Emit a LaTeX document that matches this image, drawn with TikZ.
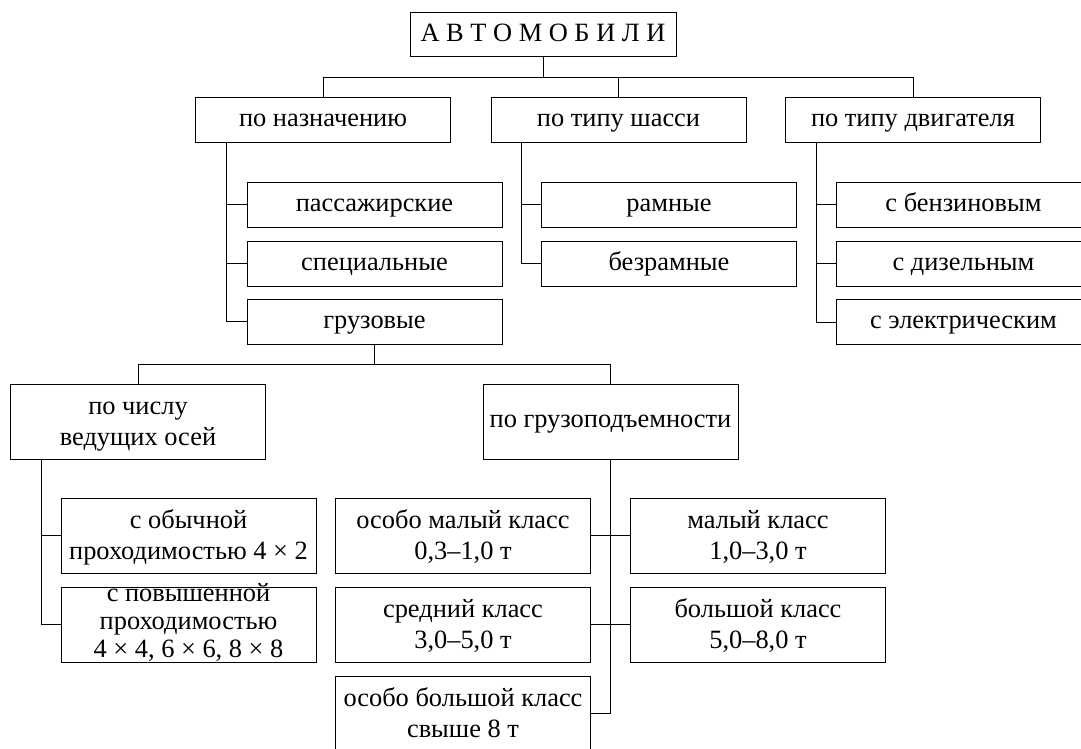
\documentclass[tikz,border=0pt]{standalone}
\usepackage{fontspec}
\setmainfont{Liberation Serif}
\usetikzlibrary{positioning}
\newcommand{\tallstrut}{\rule[-4.6pt]{0pt}{17.9pt}}

\begin{document}
\begin{tikzpicture}[x=0.5pt,y=-0.5pt]
% Define styles for nodes and edges
\tikzstyle{criterion} = [rectangle, draw, line width=0.5pt, minimum width=127.5pt, minimum height=22.5pt, align=center, inner sep=1pt, font=\fontsize{13.2}{16.5}\selectfont, execute at begin node=\strut, execute at end node=\strut]
\tikzstyle{root} = [criterion, minimum width=133pt, minimum height=22pt]
\tikzstyle{kind} = [criterion]
\tikzstyle{tallkind} = [criterion, minimum height=37.5pt, inner ysep=0pt, font=\fontsize{13.2}{15.25}\selectfont]
\tikzstyle{connector} = [line width=0.5pt]

\useasboundingbox (0,0) rectangle (1081,749);

% Nodes
\node[root] (auto) at (543,35) {А В Т О М О Б И Л И};
\node[criterion] (purpose) at (323,120) {по назначению};
\node[criterion, right of=purpose, node distance=147.75pt] (chassis) {по типу шасси};
\node[criterion, right of=chassis, node distance=147.25pt] (engine) {по типу двигателя};

\node[kind] (passenger) at (374.5,204.5) {пассажирские};
\node[kind, below of=passenger, node distance=29.5pt] (special) {специальные};
\node[kind, below of=special, node distance=29pt] (cargo) {грузовые};

\node[kind] (frame) at (669,204.5) {рамные};
\node[kind, below of=frame, node distance=29.5pt] (frameless) {безрамные};

\node[kind] (petrol) at (963.5,204.5) {с бензиновым};
\node[kind, below of=petrol, node distance=29.5pt] (diesel) {с дизельным};
\node[kind, below of=diesel, node distance=29.25pt] (electric) {с электрическим};

\node[tallkind] (axles) at (138,421.5) {\tallstrut по числу\\ведущих осей};
\node[tallkind, right of=axles, node distance=236.25pt] (payload) {по грузоподъемности};

\node[tallkind] (normal) at (188.5,535.5) {\tallstrut с обычной\\проходимостью 4 × 2};
\node[tallkind, below of=normal, node distance=44.5pt, font=\fontsize{13.2}{14}\selectfont, inner ysep=-3pt] (offroad) {с повышенной\\проходимостью\\4 × 4, 6 × 6, 8 × 8};

\node[tallkind] (xsmall) at (463,535.5) {\tallstrut особо малый класс\\0,3–1,0 т};
\node[tallkind, below of=xsmall, node distance=44.5pt] (medium) {\tallstrut средний класс\\3,0–5,0 т};
\node[tallkind, below of=medium, node distance=44.5pt] (xlarge) {\tallstrut особо большой класс\\свыше 8 т};
\node[tallkind] (small) at (758,535.5) {\tallstrut малый класс\\1,0–3,0 т};
\node[tallkind, below of=small, node distance=44.5pt] (large) {\tallstrut большой класс\\5,0–8,0 т};

% Edges
\draw[connector] (auto.south) -- ++(0,20) -| (purpose.north);
\draw[connector] (auto.south) -- ++(0,20) -| (chassis.north);
\draw[connector] (auto.south) -- ++(0,20) -| (engine.north);
\foreach \c in {passenger,special,cargo} \draw[connector] (purpose.south west) ++(31.5,0) |- (\c.west);
\foreach \c in {frame,frameless} \draw[connector] (chassis.south west) ++(31,0) |- (\c.west);
\foreach \c in {petrol,diesel,electric} \draw[connector] (engine.south west) ++(31,0) |- (\c.west);
\draw[connector] (cargo.south) -- ++(0,20) -| (axles.north);
\draw[connector] (cargo.south) -- ++(0,20) -| (payload.north);
\foreach \c in {normal,offroad} \draw[connector] (axles.south west) ++(31,0) |- (\c.west);
\draw[connector] (payload.south) |- (xlarge.east);
\draw[connector] (xsmall.east) -- (small.west);
\draw[connector] (medium.east) -- (large.west);
\end{tikzpicture}
\end{document}
